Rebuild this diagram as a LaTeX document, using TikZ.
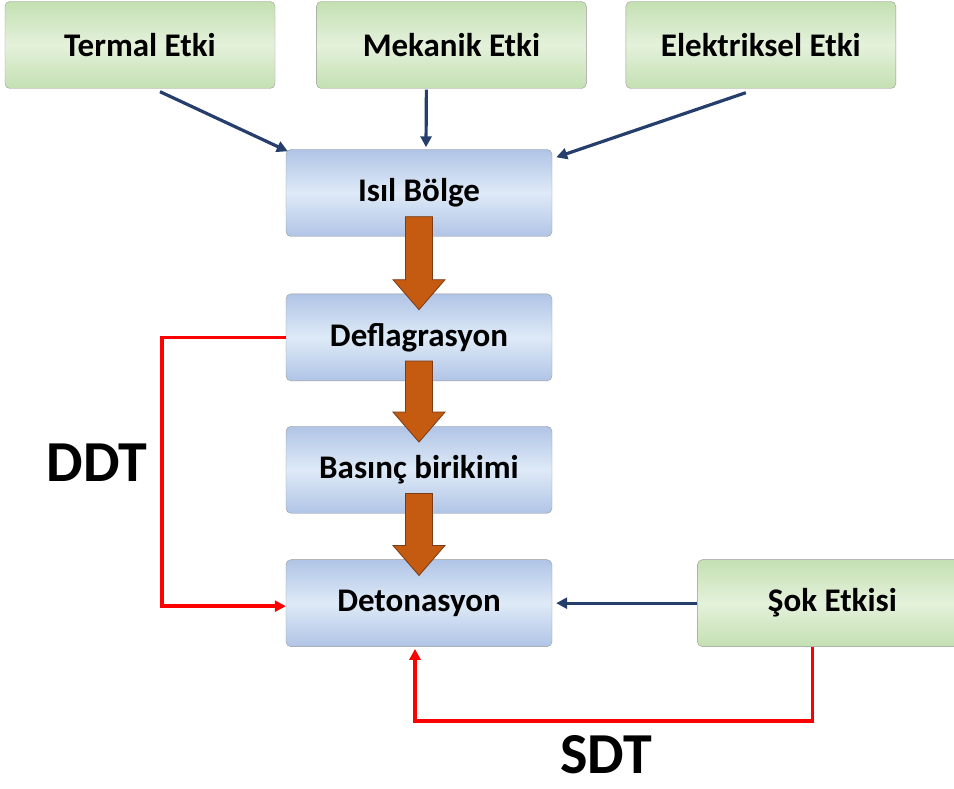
\documentclass[tikz,border=0pt]{standalone}
\usepackage{fontspec}
\setmainfont{Carlito}
\usetikzlibrary{arrows.meta, positioning, calc}
\definecolor{boxblue}{RGB}{176,196,230}
\definecolor{boxbluelt}{RGB}{222,234,247}
\definecolor{boxgreen}{RGB}{196,224,178}
\definecolor{boxgreenlt}{RGB}{228,241,219}
\definecolor{arrblue}{RGB}{38,62,107}
\definecolor{brownfill}{RGB}{197,90,17}
\definecolor{browndraw}{RGB}{120,60,25}

\begin{document}
\begin{tikzpicture}[x=1pt, y=1pt,
      node distance=45pt,
      box/.style={draw=black!40, rounded corners=5pt, align=center, inner sep=4pt,
        minimum width=266pt, minimum height=87pt, font=\bfseries\fontsize{33}{38}\selectfont},
      bluebox/.style={box, top color=boxblue, bottom color=boxblue, middle color=boxbluelt},
      greenbox/.style={box, minimum width=270pt, top color=boxgreen, bottom color=boxgreen, middle color=boxgreenlt},
      bigl/.style={font=\bfseries\fontsize{58}{66}\selectfont},
      bluearr/.style={-{Triangle[length=11pt, width=11pt]}, line width=3.2pt, draw=arrblue},
      redarr/.style={-{Triangle[length=11pt, width=11pt]}, line width=3.5pt, draw=red},
      blockarr/.style={fill=brownfill, draw=browndraw, line width=0.8pt}]
    \useasboundingbox (0,0) rectangle (954,789);
    % sources
    \node[greenbox] (termal) at (140,744) {Termal Etki};
    \node[greenbox, right=41pt of termal] (mekanik) {Mekanik Etki};
    \node[greenbox, right=39pt of mekanik] (elektrik) {Elektriksel Etki};
    % main chain
    \node[bluebox] (isil) at (419,596) {Isıl Bölge};
    \node[bluebox, below=57pt of isil] (defl) {Deflagrasyon};
    \node[bluebox, below=of defl] (basinc) {Basınç birikimi};
    \node[bluebox, below=46pt of basinc] (deton) {Detonasyon};
    \node[greenbox, right=145pt of deton] (sok) {Şok Etkisi};
    \node[bigl] (ddt) at (97,326) {DDT};
    \node[bigl] (sdt) at (606,34) {SDT};
    % inputs
    \draw[bluearr] ($(termal.south)+(20,-3)$) -- ($(isil.north west)+(2,-2)$);
    \draw[bluearr] ($(mekanik.south)+(-25,-1)$) -- ($(isil.north)+(7,2)$);
    \draw[bluearr] ($(elektrik.south)+(-15,-4)$) -- ($(isil.north east)+(4,-8)$);
    \draw[bluearr, shorten >=4pt] (sok.west) -- (sok.west -| deton.east);
    % block arrows
    \foreach \a/\b in {isil/defl, defl/basinc, basinc/deton}
      \draw[blockarr] let \p1=($(\a.south)+(0,20)$), \p2=($(\b.north)+(0,-16)$) in
        (\x1-13.5pt,\y1) -- (\x1+13.5pt,\y1) -- (\x1+13.5pt,\y2+30pt) -- (\x1+26pt,\y2+30pt)
        -- (\x2,\y2) -- (\x1-26pt,\y2+30pt) -- (\x1-13.5pt,\y2+30pt) -- cycle;
    % transitions
    \draw[redarr] (defl.west) -- ++(-124,0) |- ($(deton.west)+(0,-3)$);
    \draw[redarr] ($(sok.south)+(-20,0)$) -- ++(0,-74) -| ($(deton.south)+(-4,-2)$);
  \end{tikzpicture}
\end{document}
